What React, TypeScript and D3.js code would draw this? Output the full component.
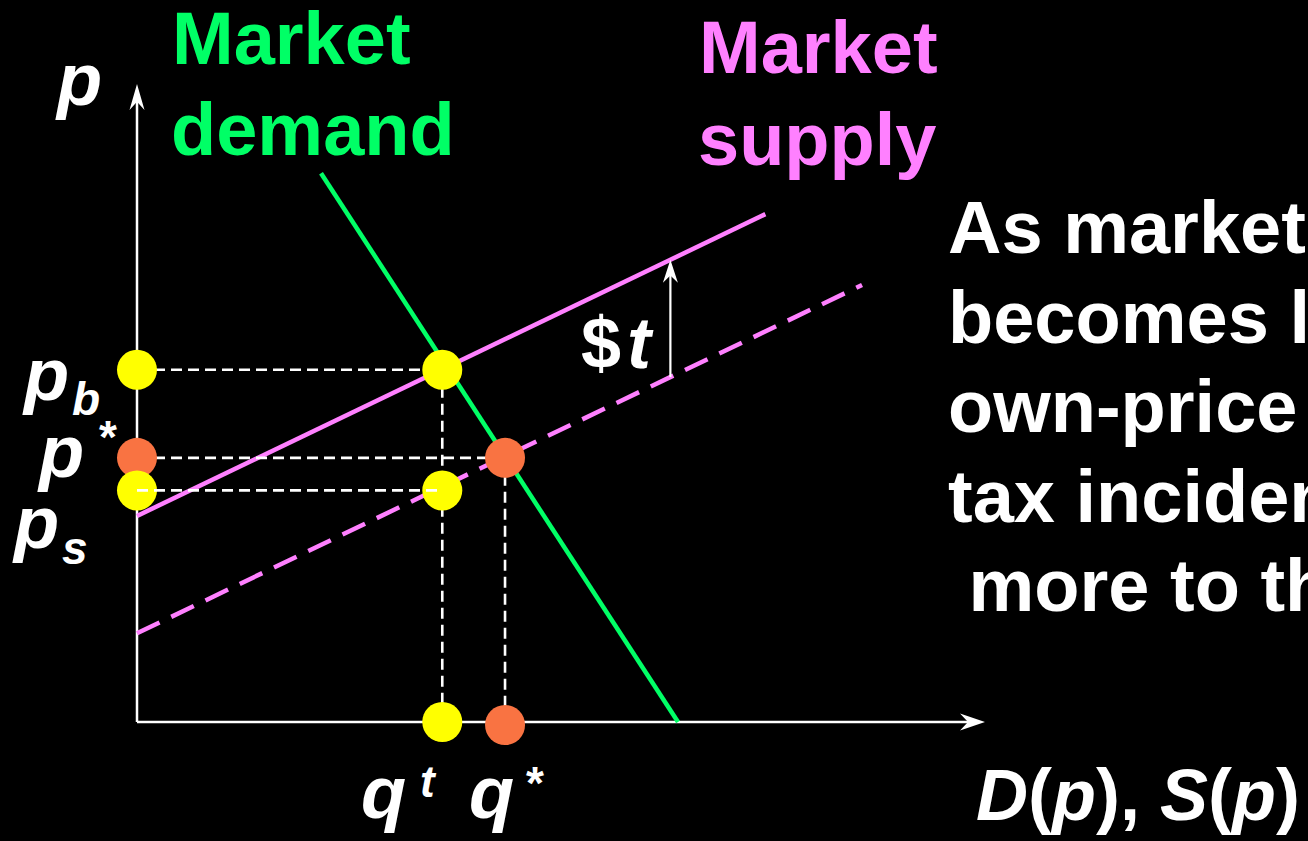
import React from "react";
import * as d3 from "d3";

// ---- data (abstract quantity / price units) ----
const demandPts: [number, number][] = [
  [2.17, 8.6],
  [6.38, 0],
];
const supplyTaxPts: [number, number][] = [
  [0, 3.23],
  [7.41, 7.96],
];
const supplyPts: [number, number][] = [
  [0, 1.39],
  [8.55, 6.85],
];
const quantities = { qt: 3.6, qStar: 4.34 };
const prices = { pb: 5.52, pStar: 4.14, ps: 3.63 };
const taxArrowQ = 6.29;
const textLines = [
  "As market demand",
  "becomes less",
  "own-price elastic,",
  "tax incidence shifts",
  " more to the buyers.",
];

const W = 1308;
const H = 841;

const x = d3.scaleLinear().domain([0, 10]).range([137, 985]);
const y = d3.scaleLinear().domain([0, 10]).range([722, 84]);

const GREEN = "#00ff66";
const PINK = "#ff80ff";
const YELLOW = "#ffff00";
const ORANGE = "#f97342";
const FONT = "'Liberation Sans', Arial, Helvetica, sans-serif";

const line = d3
  .line<[number, number]>()
  .x((d) => x(d[0]))
  .y((d) => y(d[1]));

// price on a straight line at quantity q
function at(pts: [number, number][], q: number) {
  const [a, b] = pts;
  return a[1] + ((b[1] - a[1]) * (q - a[0])) / (b[0] - a[0]);
}

function stealth(tx: number, ty: number, dx: number, dy: number, L: number, Wd: number) {
  const nx = -dy;
  const ny = dx;
  const p = d3.path();
  p.moveTo(tx, ty);
  p.lineTo(tx - dx * L + (nx * Wd) / 2, ty - dy * L + (ny * Wd) / 2);
  p.lineTo(tx - dx * L * 0.68, ty - dy * L * 0.68);
  p.lineTo(tx - dx * L - (nx * Wd) / 2, ty - dy * L - (ny * Wd) / 2);
  p.closePath();
  return p.toString();
}

export default function App() {
  const r = 20;
  const x0 = x(0);
  const y0 = y(0);
  const xEnd = x(10);
  const yTop = y(10);
  const arrowLow = at(supplyPts, taxArrowQ);
  const arrowHigh = at(supplyTaxPts, taxArrowQ);
  const dash = "11 6";
  const bold: React.CSSProperties = { fontFamily: FONT, fontWeight: 700 };
  return (
    <svg
      width={W}
      height={H}
      style={{ position: "absolute", left: 0, top: 0, background: "#000" }}
    >
      <rect width={W} height={H} fill="#000" />
      {/* axes */}
      <line x1={x0} y1={y0} x2={x0} y2={yTop + 12} stroke="#fff" strokeWidth={2.5} />
      <path d={stealth(x0, yTop, 0, -1, 26, 15)} fill="#fff" />
      <line x1={x0} y1={y0} x2={xEnd - 12} y2={y0} stroke="#fff" strokeWidth={2.5} />
      <path d={stealth(xEnd, y0, 1, 0, 25, 17)} fill="#fff" />

      {/* curves */}
      <path d={line(supplyPts) || ""} stroke={PINK} strokeWidth={4.5} fill="none" strokeDasharray="25 13" />
      <path d={line(supplyTaxPts) || ""} stroke={PINK} strokeWidth={4.5} fill="none" />
      <path d={line(demandPts) || ""} stroke={GREEN} strokeWidth={4.5} fill="none" />

      {/* tax arrow */}
      <line
        x1={x(taxArrowQ)}
        y1={y(arrowLow)}
        x2={x(taxArrowQ)}
        y2={y(arrowHigh) + 10}
        stroke="#fff"
        strokeWidth={2.2}
      />
      <path d={stealth(x(taxArrowQ), y(arrowHigh), 0, -1, 23, 15)} fill="#fff" />

      {/* dashed guides (below dots) */}
      <g stroke="#fff" strokeWidth={2.6} strokeDasharray={dash}>
        <line x1={x0} y1={y(prices.pb)} x2={x(quantities.qt)} y2={y(prices.pb)} />
        <line x1={x0} y1={y(prices.pStar)} x2={x(quantities.qStar)} y2={y(prices.pStar)} />
        <line x1={x(quantities.qt)} y1={y(prices.pb)} x2={x(quantities.qt)} y2={y0} />
        <line x1={x(quantities.qStar)} y1={y(prices.pStar)} x2={x(quantities.qStar)} y2={y0} />
      </g>

      {/* dots */}
      <circle cx={x0} cy={y(prices.pb)} r={r} fill={YELLOW} />
      <circle cx={x0} cy={y(prices.pStar)} r={r} fill={ORANGE} />
      <circle cx={x0} cy={y(prices.ps)} r={r} fill={YELLOW} />
      <circle cx={x(quantities.qt)} cy={y(prices.pb)} r={r} fill={YELLOW} />
      <circle cx={x(quantities.qStar)} cy={y(prices.pStar)} r={r} fill={ORANGE} />
      <circle cx={x(quantities.qt)} cy={y(prices.ps)} r={r} fill={YELLOW} />
      <circle cx={x(quantities.qt)} cy={y0} r={r} fill={YELLOW} />
      <circle cx={x(quantities.qStar)} cy={y0 + 3} r={r} fill={ORANGE} />

      {/* seller price guide above dots */}
      <line
        x1={x0}
        y1={y(prices.ps)}
        x2={x(quantities.qt)}
        y2={y(prices.ps)}
        stroke="#fff"
        strokeWidth={2.6}
        strokeDasharray={dash}
      />

      {/* labels */}
      <g fill="#fff" style={bold}>
        <text x={57} y={105} fontSize={74} fontStyle="italic">p</text>
        <text x={24} y={400} fontSize={74} fontStyle="italic">p</text>
        <text x={72} y={415} fontSize={46} fontStyle="italic">b</text>
        <text x={99} y={453} fontSize={46}>*</text>
        <text x={39} y={477} fontSize={74} fontStyle="italic">p</text>
        <text x={14} y={548} fontSize={74} fontStyle="italic">p</text>
        <text x={62} y={564} fontSize={46} fontStyle="italic">s</text>

        <text x={361} y={818} fontSize={74} fontStyle="italic">q</text>
        <text x={420} y={797} fontSize={44} fontStyle="italic">t</text>
        <text x={469} y={818} fontSize={74} fontStyle="italic">q</text>
        <text x={526} y={799} fontSize={46}>*</text>

        <text x={976} y={820} fontSize={72}>
          <tspan fontStyle="italic">D</tspan>
          <tspan>(</tspan>
          <tspan fontStyle="italic">p</tspan>
          <tspan>), </tspan>
          <tspan fontStyle="italic">S</tspan>
          <tspan>(</tspan>
          <tspan fontStyle="italic">p</tspan>
          <tspan>)</tspan>
        </text>

        <text x={581} y={368} fontSize={72}>$</text>
        <text x={627} y={368} fontSize={72} fontStyle="italic">t</text>
      </g>

      <g style={bold} fontSize={74}>
        <text x={172} y={64} fill={GREEN}>Market</text>
        <text x={171} y={155} fill={GREEN}>demand</text>
        <text x={699} y={73} fill={PINK}>Market</text>
        <text x={698} y={165} fill={PINK}>supply</text>
      </g>

      <g style={bold} fontSize={74} fill="#fff">
        {textLines.map((t, i) => (
          <text key={i} x={948} y={253 + i * 89.5} xmlSpace="preserve" style={{ whiteSpace: "pre" }}>
            {t}
          </text>
        ))}
      </g>
    </svg>
  );
}
